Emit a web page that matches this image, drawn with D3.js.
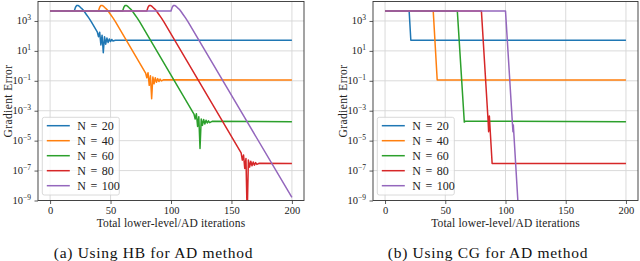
<!DOCTYPE html>
<html>
<head>
<meta charset="utf-8">
<script src="https://cdn.jsdelivr.net/npm/d3@7"></script>
<style>
  body { margin: 0; background: #fff; }
  svg { display: block; font-family: 'Liberation Serif', 'DejaVu Serif', serif; }
</style>
</head>
<body>
<div class="canvas"></div>
<script>
// tick labels / categories
const iterTicks = [0, 50, 100, 150, 200]
const errTicks = [1e-9, 1e-7, 1e-5, 1e-3, 1e-1, 1e1, 1e3]
const errTickExp = ['\u22129', '\u22127', '\u22125', '\u22123', '\u22121', '1', '3']
const seriesNames = ['N = 20', 'N = 40', 'N = 60', 'N = 80', 'N = 100']
const colors = ['#1f77b4', '#ff7f0e', '#2ca02c', '#d62728', '#9467bd']

// (a) HB for AD : [iteration, gradient error]
const hb20 = [
  [0, 4.7e3], [20, 4.7e3], [21, 8.3e3], [22, 1.07e4], [23, 1.1e4], [24, 9.8e3],
  [25, 8.3e3], [26, 6.9e3], [27, 5.8e3], [28, 4.6e3], [30, 2.7e3], [32, 1.6e3],
  [34, 890], [39, 186], [40, 89], [41, 178], [42, 25], [43, 112], [44, 7.6],
  [45, 89], [46, 28], [47, 72], [48, 36], [49, 63], [50, 42], [51, 58],
  [52, 46], [54, 52], [200, 51],
]
const hb40 = [
  [0, 4.7e3], [40, 4.7e3], [41, 8.3e3], [42, 1.07e4], [43, 1.1e4], [44, 9.8e3],
  [45, 8.3e3], [46, 6.9e3], [47, 5.8e3], [48, 4.6e3], [50, 2.7e3], [52, 1.6e3],
  [54, 890], [79, 0.33], [80, 0.16], [81, 0.35], [82, 0.05], [83, 0.22],
  [84, 0.0063], [85, 0.18], [86, 0.063], [87, 0.16], [88, 0.079], [89, 0.14],
  [90, 0.089], [91, 0.13], [92, 0.098], [94, 0.117], [200, 0.112],
]
const hb60 = [
  [0, 4.7e3], [60, 4.7e3], [61, 8.3e3], [62, 1.07e4], [63, 1.1e4], [64, 9.8e3],
  [65, 8.3e3], [66, 6.9e3], [67, 5.8e3], [68, 4.6e3], [70, 2.7e3], [72, 1.6e3],
  [74, 890], [119, 6.0e-4], [120, 2.8e-4], [121, 6.3e-4], [122, 8.9e-5],
  [123, 4.0e-4], [124, 3.0e-6], [125, 2.8e-4], [126, 1.05e-4], [127, 2.6e-4],
  [128, 1.3e-4], [129, 2.3e-4], [130, 1.5e-4], [131, 2.1e-4], [132, 1.6e-4],
  [134, 1.95e-4], [200, 1.86e-4],
]
const hb80 = [
  [0, 4.7e3], [80, 4.7e3], [81, 8.3e3], [82, 1.07e4], [83, 1.1e4], [84, 9.8e3],
  [85, 8.3e3], [86, 6.9e3], [87, 5.8e3], [88, 4.6e3], [90, 2.7e3], [92, 1.6e3],
  [94, 890], [158, 1.5e-6], [159, 5.0e-7], [160, 1.1e-6], [161, 1.4e-7],
  [162, 6.3e-7], [163, 1e-10], [164, 5.0e-7], [165, 1.7e-7], [166, 4.2e-7],
  [167, 2.1e-7], [168, 3.7e-7], [169, 2.3e-7], [170, 3.4e-7], [171, 2.6e-7],
  [173, 3.1e-7], [200, 2.95e-7],
]
const hb100 = [
  [0, 4.7e3], [100, 4.7e3], [101, 8.3e3], [102, 1.07e4], [103, 1.1e4], [104, 9.8e3],
  [105, 8.3e3], [106, 6.9e3], [107, 5.8e3], [108, 4.6e3], [110, 2.7e3], [112, 1.6e3],
  [114, 890], [200, 1.6e-9],
]

// (b) CG for AD
const cg20 = [[0, 4.7e3], [20, 4.7e3], [21.4, 51], [200, 51]]
const cg40 = [[0, 4.7e3], [40, 4.7e3], [43.3, 0.112], [200, 0.112]]
const cg60 = [[0, 4.7e3], [60, 4.7e3], [65.8, 1.74e-4], [66.6, 2.0e-4], [200, 1.86e-4]]
const cg80 = [
  [0, 4.7e3], [80, 4.7e3], [85.5, 2.5e-4], [86, 4e-5], [86.6, 4.5e-4],
  [88.9, 2.95e-7], [200, 2.95e-7],
]
const cg100 = [
  [0, 4.7e3], [100, 4.7e3], [105.7, 1.6e-4], [106.2, 4e-5], [106.5, 1.1e-4],
  [111, 1e-10],
]

const panels = [
  { id: 'a', left: 38, right: 304, series: [hb20, hb40, hb60, hb80, hb100],
    caption: '(a) Using HB for AD method', captionX: 153.5 },
  { id: 'b', left: 373, right: 638, series: [cg20, cg40, cg60, cg80, cg100],
    caption: '(b) Using CG for AD method', captionX: 488 },
]

const plotTop = 1.5
const plotBottom = 200.5

const svg = d3
  .select('.canvas')
  .append('svg')
  .attr('width', 640)
  .attr('height', 261)

panels.forEach((p) => {
  const x = d3.scaleLinear().domain([-10, 210]).range([p.left, p.right])
  const y = d3.scaleLog().domain([1e-9, 2e4]).range([plotBottom, plotTop])

  const g = svg.append('g')

  // clip
  svg
    .append('clipPath')
    .attr('id', `clip-${p.id}`)
    .append('rect')
    .attr('x', p.left)
    .attr('y', plotTop)
    .attr('width', p.right - p.left)
    .attr('height', plotBottom - plotTop)

  // grid
  g.selectAll('.vgrid')
    .data(iterTicks)
    .join('line')
    .attr('x1', (d) => x(d))
    .attr('x2', (d) => x(d))
    .attr('y1', plotTop)
    .attr('y2', plotBottom)
    .attr('stroke', '#d6d6d6')
    .attr('stroke-width', 0.9)
  g.selectAll('.hgrid')
    .data(errTicks)
    .join('line')
    .attr('x1', p.left)
    .attr('x2', p.right)
    .attr('y1', (d) => y(d))
    .attr('y2', (d) => y(d))
    .attr('stroke', '#d6d6d6')
    .attr('stroke-width', 0.9)

  // lines
  const line = d3
    .line()
    .x((d) => x(d[0]))
    .y((d) => y(d[1]))

  g.append('g')
    .attr('clip-path', `url(#clip-${p.id})`)
    .selectAll('path')
    .data(p.series)
    .join('path')
    .attr('fill', 'none')
    .attr('stroke', (d, i) => colors[i])
    .attr('stroke-width', 1.5)
    .attr('stroke-linejoin', 'round')
    .attr('d', line)

  // frame
  g.append('rect')
    .attr('x', p.left)
    .attr('y', plotTop)
    .attr('width', p.right - p.left)
    .attr('height', plotBottom - plotTop)
    .attr('fill', 'none')
    .attr('stroke', '#333')
    .attr('stroke-width', 0.9)

  // x axis
  const xAxis = d3.axisBottom(x).tickValues(iterTicks).tickSize(3.5).tickPadding(2.5)
  const xg = g.append('g').attr('transform', `translate(0, ${plotBottom})`).call(xAxis)
  xg.select('.domain').remove()
  xg.selectAll('line').attr('stroke', '#333').attr('stroke-width', 0.8)
  xg.selectAll('text')
    .attr('font-family', 'Liberation Serif')
    .attr('font-size', 10.5)
    .attr('fill', '#222')

  // y axis with superscript labels
  const yAxis = d3.axisLeft(y).tickValues(errTicks).tickSize(3.5).tickFormat('')
  const yg = g.append('g').attr('transform', `translate(${p.left}, 0)`).call(yAxis)
  yg.select('.domain').remove()
  yg.selectAll('line').attr('stroke', '#333').attr('stroke-width', 0.8)
  const lbl = g
    .selectAll('.ylbl')
    .data(errTicks)
    .join('text')
    .attr('x', p.left - 7)
    .attr('y', (d) => y(d) + 3.5)
    .attr('text-anchor', 'end')
    .attr('font-size', 10.5)
    .attr('fill', '#222')
  lbl.append('tspan').text('10')
  lbl
    .append('tspan')
    .attr('dy', -4.5)
    .attr('font-size', 7.5)
    .text((d, i) => errTickExp[i])

  // axis labels
  g.append('text')
    .attr('x', (p.left + p.right) / 2)
    .attr('y', 227)
    .attr('text-anchor', 'middle')
    .attr('font-size', 11.5)
    .attr('letter-spacing', 0.15)
    .attr('fill', '#222')
    .text('Total lower-level/AD iterations')
  g.append('text')
    .attr('transform', `translate(${p.left - 26.5}, ${(plotTop + plotBottom) / 2}) rotate(-90)`)
    .attr('text-anchor', 'middle')
    .attr('font-size', 11.5)
    .attr('letter-spacing', 0.4)
    .attr('fill', '#222')
    .text('Gradient Error')

  // legend
  const lx = p.left + 4.3
  const leg = g.append('g')
  leg.append('rect')
    .attr('x', lx)
    .attr('y', 117.3)
    .attr('width', 77)
    .attr('height', 77.7)
    .attr('rx', 2)
    .attr('fill', 'white')
    .attr('fill-opacity', 0.8)
    .attr('stroke', '#d0d0d0')
    .attr('stroke-width', 0.8)
  const rows = leg
    .selectAll('.row')
    .data(seriesNames)
    .join('g')
    .attr('transform', (d, i) => `translate(${lx}, ${125.7 + i * 15})`)
  rows.append('line')
    .attr('x1', 4.5)
    .attr('x2', 27.5)
    .attr('stroke', (d, i) => colors[i])
    .attr('stroke-width', 1.5)
  rows.append('text')
    .attr('x', 35)
    .attr('y', 4)
    .attr('font-size', 12)
    .attr('word-spacing', 1.5)
    .attr('fill', '#222')
    .text((d) => d)

  // caption
  svg.append('text')
    .attr('x', p.captionX)
    .attr('y', 258)
    .attr('text-anchor', 'middle')
    .attr('font-size', 15.5)
    .attr('letter-spacing', 0.7)
    .attr('fill', '#111')
    .text(p.caption)
})
</script>
</body>
</html>
